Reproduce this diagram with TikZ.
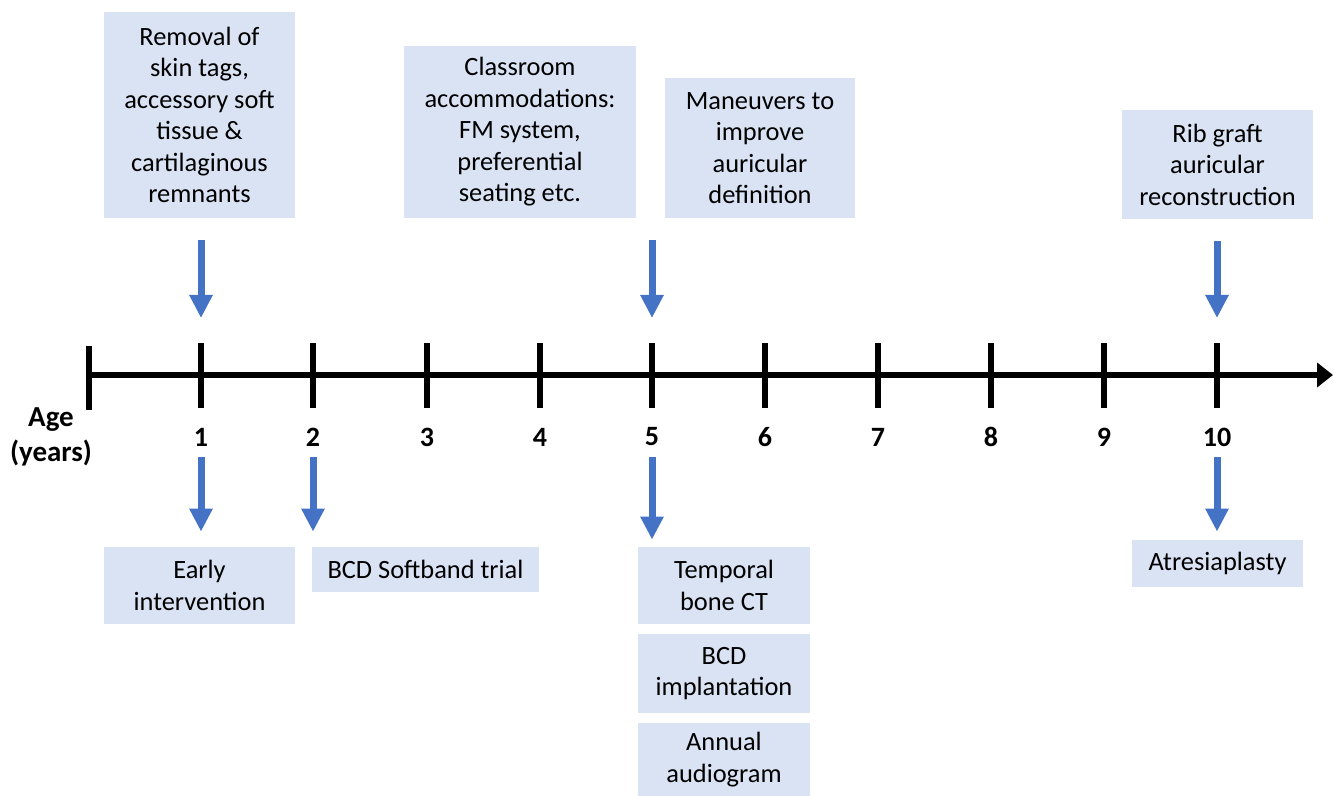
\documentclass[tikz,border=0pt]{standalone}
\usepackage{fontspec}
\setmainfont{Carlito}
\usepackage{xcolor}
\usepackage{tikz}
\usetikzlibrary{arrows.meta,positioning}
\definecolor{boxblue}{RGB}{218,227,243}
\definecolor{arrblue}{RGB}{68,114,196}
\tikzstyle{stage} = [fill=boxblue, align=center, inner sep=0pt, font=\fontsize{13.2}{15.75}\selectfont]
\tikzstyle{tick} = [line width=2.6pt]
\tikzstyle{down} = [line width=3.5pt, arrblue, -{Triangle[width=11pt,length=11.5pt]}]
\tikzstyle{agelabel} = [font=\fontsize{14}{17}\selectfont\bfseries]

\begin{document}
\begin{tikzpicture}[x=0.5pt,y=-0.5pt]
\useasboundingbox (0,0) rectangle (1333,796);

% time axis
\coordinate (t0) at (89,375);
\coordinate (tend) at (1333,375);
\draw [line width=2.6pt, -{Triangle[width=12pt,length=8pt]}] (t0) -- (tend);
\draw [tick] (89,346) -- (89,410);
\foreach \x/\n in {201/1, 313/2, 427/3, 540/4, 652/5, 765/6, 878/7, 991/8, 1104/9, 1217/10}{
  \coordinate (t\n) at (\x,375);
  \draw [tick] (\x,343) -- (\x,408);
  \node [agelabel] (y\n) at (\x,437) {\n};
}
\node [agelabel, align=center, font=\fontsize{14.5}{17.5}\selectfont\bfseries] (age) at (51,437) {Age\\(years)};

% before the axis
\node [stage, minimum width=95.5pt, minimum height=103pt] (removal) at (199.5,115) {Removal of\\skin tags,\\accessory soft\\tissue \&\\cartilaginous\\remnants};
\node [stage, minimum width=116pt, minimum height=86pt] (class) at (520,132) {Classroom\\accommodations:\\FM system,\\preferential\\seating etc.};
\node [stage, minimum width=95pt, minimum height=70pt] (maneuver) at (760,148) {Maneuvers to\\improve\\auricular\\definition};
\node [stage, minimum width=95.5pt, minimum height=54.5pt] (ribgraft) at (1217.5,164.5) {Rib graft\\auricular\\reconstruction};

\draw [down, shorten <=11pt, shorten >=28.5pt] (removal.south -| t1) -- (t1);
\draw [down, shorten <=11pt, shorten >=28.5pt] (maneuver.south -| t5) -- (t5);
\draw [down, shorten <=11pt, shorten >=28.5pt] (ribgraft.south -| t10) -- (t10);

% below the axis
\node [stage, minimum width=95.5pt, minimum height=38.5pt] (early) at (199.5,585.5) {Early\\intervention};
\node [stage, minimum width=113.5pt, minimum height=22.5pt] (softband) at (425.5,569.5) {BCD Softband trial};
\node [stage, minimum width=86pt, minimum height=38.5pt] (ct) at (724,585.5) {Temporal\\bone CT};
\node [stage, minimum width=86pt, minimum height=39.5pt] (bcd) at (724,673.5) {BCD\\implantation};
\node [stage, minimum width=86pt, minimum height=37pt] (audio) at (724,759.5) {Annual\\audiogram};
\node [stage, minimum width=85.5pt, minimum height=23.5pt] (atresia) at (1217.5,563.5) {Atresiaplasty};

\draw [down, shorten <=41pt, shorten >=7.5pt] (t1) -- (early.north -| t1);
\draw [down, shorten <=41pt, shorten >=7.5pt] (t2) -- (softband.north -| t2);
\draw [down, shorten <=41pt, shorten >=3.5pt] (t5) -- (ct.north -| t5);
\draw [down, shorten <=41pt, shorten >=4pt] (t10) -- (atresia.north -| t10);
\end{tikzpicture}
\end{document}
